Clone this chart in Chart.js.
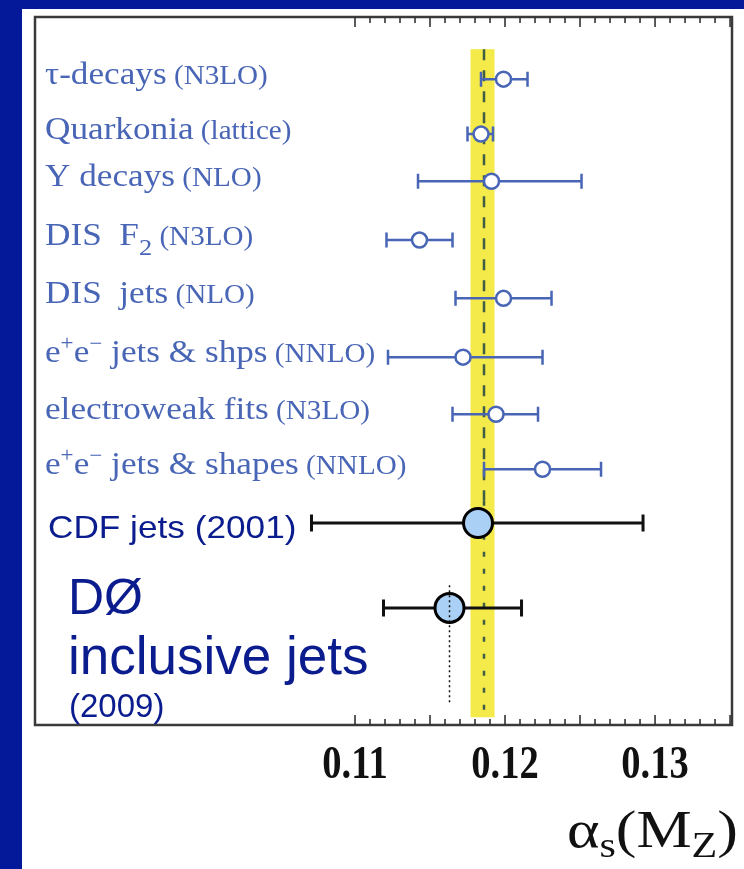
<!DOCTYPE html>
<html><head><meta charset="utf-8">
<script src="https://cdn.jsdelivr.net/npm/chart.js@4.4.0/dist/chart.umd.min.js"></script>
<style>html,body{margin:0;padding:0;background:#fff;}canvas{display:block;}</style>
</head><body>
<canvas id="c" width="744" height="869"></canvas>
<script>
// ---- data ----
const alphaCentral = [0.1199, 0.1184, 0.1191, 0.1143, 0.1199, 0.1172, 0.1194, 0.1225, 0.1182, 0.1163];
const alphaLow     = [0.1184, 0.1175, 0.1142, 0.1121, 0.1167, 0.1122, 0.1165, 0.1186, 0.1071, 0.1119];
const alphaHigh    = [0.1215, 0.1192, 0.1251, 0.1165, 0.1231, 0.1225, 0.1222, 0.1264, 0.1292, 0.1211];
const rowPosition  = [1, 1.99, 2.84, 3.9, 4.95, 6.01, 7.04, 8.03, 9.0, 10.53];
const worldAverage = 0.1186;
const worldBand    = [0.1177, 0.1193];
const d0Central    = 0.1163;
const xTickValues  = [0.11, 0.12, 0.13];
const xTickLabels  = ['0.11', '0.12', '0.13'];
const rowLabelParts = [
  [['τ-decays','m'],[' (N3LO)','p']],
  [['Quarkonia','m'],[' (lattice)','p']],
  [['Υ decays','m'],[' (NLO)','p']],
  [['DIS  F','m'],['2','sub'],[' (N3LO)','p']],
  [['DIS  jets','m'],[' (NLO)','p']],
  [['e','m'],['+','sup'],['e','m'],['−','sup'],[' jets & shps','m'],[' (NNLO)','p']],
  [['electroweak fits','m'],[' (N3LO)','p']],
  [['e','m'],['+','sup'],['e','m'],['−','sup'],[' jets & shapes','m'],[' (NNLO)','p']]
];
const cdfLabel = 'CDF jets (2001)';
const d0Label  = ['DØ', 'inclusive jets', '(2009)'];
const axisTitleParts = [['α','m'],['s','sub'],['(','m'],['M','m'],['Z','sub'],[')','m']];

// ---- styles ----
const NAVY = '#03199a', TXT_NAVY = '#0b1d8e', BLUE = '#4865b6', YELLOW = '#f4ea4a';
const labelStyles = {
  m:   {font: '32px "Liberation Serif"', dy: 0},
  p:   {font: '26.5px "Liberation Serif"', dy: 0},
  sub: {font: '24px "Liberation Serif"', dy: 10},
  sup: {font: '21px "Liberation Serif"', dy: -12}
};
const titleStyles = {
  m:   {font: '53px "Liberation Serif"', dy: 0},
  sub: {font: '36px "Liberation Serif"', dy: 10}
};

function drawParts(ctx, parts, styles, x, y, stretch, align) {
  ctx.save();
  let total = 0;
  for (const [t, k] of parts) { ctx.font = styles[k].font; total += ctx.measureText(t).width; }
  const startX = align === 'right' ? x - total * stretch : x;
  ctx.translate(startX, y); ctx.scale(stretch, 1);
  ctx.textAlign = 'left'; ctx.textBaseline = 'alphabetic';
  let cx = 0;
  for (const [t, k] of parts) {
    ctx.font = styles[k].font;
    ctx.fillText(t, cx, styles[k].dy);
    cx += ctx.measureText(t).width;
  }
  ctx.restore();
}
function stretchedText(ctx, text, font, x, y, stretch, align) {
  ctx.save(); ctx.font = font; ctx.translate(x, y); ctx.scale(stretch, 1);
  ctx.textAlign = align || 'left'; ctx.textBaseline = 'alphabetic';
  ctx.fillText(text, 0, 0); ctx.restore();
}

const decor = {
  id: 'decor',
  beforeDraw(chart) {
    const ctx = chart.ctx;
    ctx.save();
    ctx.fillStyle = NAVY; ctx.fillRect(0, 0, chart.width, chart.height);
    ctx.fillStyle = '#ffffff'; ctx.fillRect(22, 9, chart.width - 22, chart.height - 9);
    ctx.restore();
  },
  beforeDatasetsDraw(chart) {
    const ctx = chart.ctx, xs = chart.scales.x, ys = chart.scales.y, a = chart.chartArea;
    ctx.save();
    // world average band
    const bTop = ys.getPixelForValue(0.46), bBot = ys.getPixelForValue(12.5);
    const bx1 = xs.getPixelForValue(worldBand[0]), bx2 = xs.getPixelForValue(worldBand[1]);
    ctx.fillStyle = YELLOW; ctx.fillRect(bx1, bTop, bx2 - bx1, bBot - bTop);
    // dashed central line
    const wx = xs.getPixelForValue(worldAverage);
    const mid = ys.getPixelForValue(8.6);
    ctx.strokeStyle = '#3f5e45'; ctx.lineWidth = 2.5;
    ctx.setLineDash([11, 10]);
    ctx.beginPath(); ctx.moveTo(wx, bTop); ctx.lineTo(wx, mid); ctx.stroke();
    ctx.setLineDash([5, 12]);
    ctx.beginPath(); ctx.moveTo(wx, mid); ctx.lineTo(wx, bBot); ctx.stroke();
    ctx.setLineDash([]);
    // error bars
    for (let i = 0; i < alphaCentral.length; i++) {
      const hadron = i >= 8;
      const y = ys.getPixelForValue(rowPosition[i]);
      const x1 = xs.getPixelForValue(alphaLow[i]), x2 = xs.getPixelForValue(alphaHigh[i]);
      const cap = hadron ? 8.5 : 7.5;
      ctx.strokeStyle = hadron ? '#111111' : BLUE;
      ctx.lineWidth = hadron ? 3 : 2.5;
      ctx.beginPath();
      ctx.moveTo(x1, y); ctx.lineTo(x2, y);
      ctx.moveTo(x1, y - cap); ctx.lineTo(x1, y + cap);
      ctx.moveTo(x2, y - cap); ctx.lineTo(x2, y + cap);
      ctx.stroke();
    }
    // frame
    ctx.strokeStyle = '#3a3a3a'; ctx.lineWidth = 2.5;
    ctx.strokeRect(a.left, a.top, a.right - a.left, a.bottom - a.top);
    // ticks on top and bottom (0.110 .. 0.135 every 0.001)
    ctx.lineWidth = 1.6; ctx.strokeStyle = '#333333';
    ctx.beginPath();
    for (let k = 110; k <= 135; k++) {
      const x = xs.getPixelForValue(k / 1000);
      const len = (k % 5 === 0) ? 10 : 6;
      ctx.moveTo(x, a.top); ctx.lineTo(x, a.top + len);
      ctx.moveTo(x, a.bottom); ctx.lineTo(x, a.bottom - len);
    }
    ctx.stroke();
    // row labels
    ctx.fillStyle = BLUE;
    rowLabelParts.forEach((parts, i) => {
      drawParts(ctx, parts, labelStyles, a.left + 10, ys.getPixelForValue(rowPosition[i]) + 5, 1.1, 'left');
    });
    ctx.fillStyle = TXT_NAVY;
    stretchedText(ctx, cdfLabel, '32px "Liberation Sans"', a.left + 13, ys.getPixelForValue(rowPosition[8]) + 15, 1.1);
    const d0y = ys.getPixelForValue(rowPosition[9]);
    stretchedText(ctx, d0Label[0], '50px "Liberation Sans"', a.left + 33, d0y + 6, 1.0);
    stretchedText(ctx, d0Label[1], '53px "Liberation Sans"', a.left + 33, d0y + 66, 1.0);
    stretchedText(ctx, d0Label[2], '33px "Liberation Sans"', a.left + 34, d0y + 109, 1.0);
    ctx.restore();
  },
  afterDatasetsDraw(chart) {
    const ctx = chart.ctx, xs = chart.scales.x, ys = chart.scales.y, a = chart.chartArea;
    ctx.save();
    // D0 dotted line
    const dx = xs.getPixelForValue(d0Central);
    ctx.strokeStyle = '#111'; ctx.lineWidth = 1.5; ctx.setLineDash([2, 3]);
    ctx.beginPath(); ctx.moveTo(dx, ys.getPixelForValue(10.12)); ctx.lineTo(dx, ys.getPixelForValue(12.23)); ctx.stroke();
    ctx.setLineDash([]);
    // tick labels
    ctx.fillStyle = '#111111';
    xTickValues.forEach((v, i) => {
      stretchedText(ctx, xTickLabels[i], 'bold 47px "Liberation Serif"', xs.getPixelForValue(v), a.bottom + 53, 0.82, 'center');
    });
    // axis title
    drawParts(ctx, axisTitleParts, titleStyles, 738, 847, 1.17, 'right');
    ctx.restore();
  }
};

const otherPts = alphaCentral.slice(0, 8).map((v, i) => ({x: v, y: rowPosition[i]}));
const hadronPts = alphaCentral.slice(8).map((v, i) => ({x: v, y: rowPosition[i + 8]}));

new Chart(document.getElementById('c'), {
  type: 'scatter',
  data: {
    datasets: [
      {label: 'Other processes', data: otherPts, pointRadius: 7.5, pointBorderWidth: 2.5,
       pointBackgroundColor: '#ffffff', pointBorderColor: BLUE, showLine: false},
      {label: 'Hadron collider jets', data: hadronPts, pointRadius: 14.5, pointBorderWidth: 3,
       pointBackgroundColor: '#abd0f6', pointBorderColor: '#000000', showLine: false}
    ]
  },
  options: {
    responsive: false, animation: false, devicePixelRatio: 1,
    layout: {autoPadding: false, padding: {left: 35, right: 12, top: 17, bottom: 144}},
    scales: {
      x: {type: 'linear', min: 0.08867, max: 0.13513, display: false},
      y: {type: 'linear', min: -0.12, max: 12.64, reverse: true, display: false}
    },
    plugins: {legend: {display: false}, tooltip: {enabled: false}}
  },
  plugins: [decor]
});
</script>
</body></html>
